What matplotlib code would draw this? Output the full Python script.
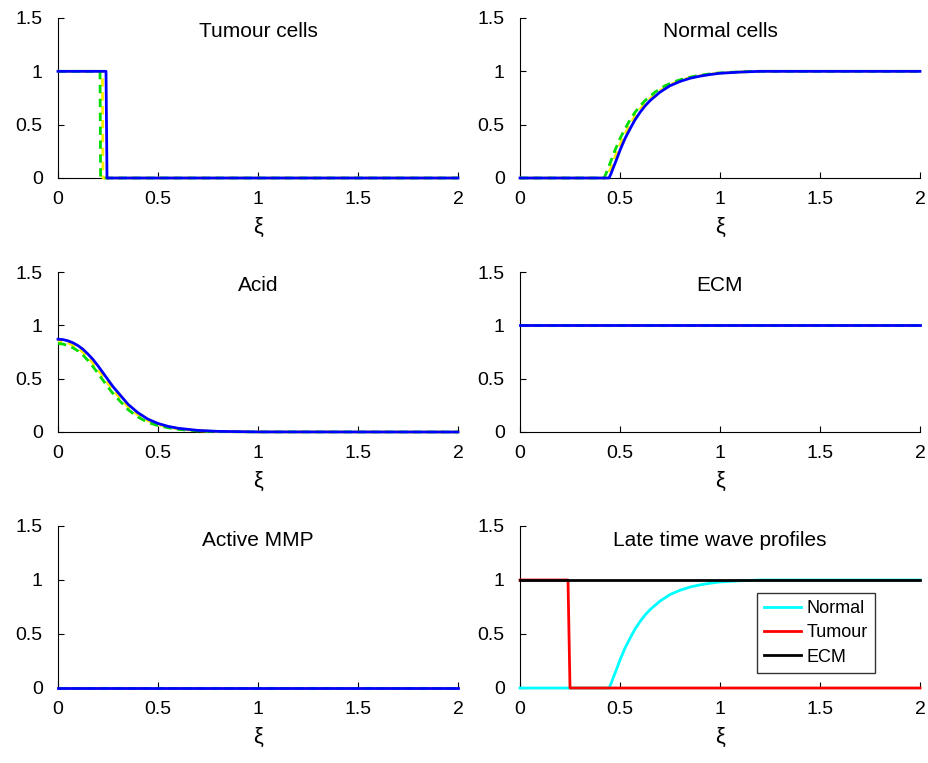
import matplotlib
matplotlib.use("Agg")
import matplotlib.pyplot as plt

plt.rcParams['font.family'] = ['Liberation Sans', 'DejaVu Sans']

# ---------------- data ----------------
titles = ["Tumour cells", "Normal cells", "Acid", "ECM", "Active MMP", "Late time wave profiles"]
xticks = [0, 0.5, 1, 1.5, 2]
xticklabels = ["0", "0.5", "1", "1.5", "2"]
yticks = [0, 0.5, 1, 1.5]
yticklabels = ["0", "0.5", "1", "1.5"]

# Tumour cells
tum_x_blue = [0, 0.24, 0.245, 2]
tum_y_blue = [1, 1, 0, 0]
tum_x_yel = [0, 0.222, 0.225, 2]
tum_y_yel = [1, 1, 0, 0]
tum_x_grn = [0, 0.21, 0.213, 2]
tum_y_grn = [1, 1, 0, 0]

# Normal cells
nor_x_blue = [0, 0.445, 0.455, 0.465, 0.48, 0.5, 0.525, 0.55, 0.575, 0.6, 0.625, 0.65, 0.7, 0.75,
              0.8, 0.85, 0.9, 0.95, 1.0, 1.1, 1.2, 2.0]
nor_y_blue = [0, 0, 0.04, 0.09, 0.16, 0.26, 0.37, 0.46, 0.545, 0.615, 0.675, 0.725, 0.805, 0.865,
              0.905, 0.935, 0.955, 0.97, 0.982, 0.993, 1.0, 1.0]
nor_x_yel = [0, 0.433, 0.443, 0.453, 0.468, 0.488, 0.513, 0.538, 0.563, 0.588, 0.613, 0.638, 0.688, 0.738,
             0.788, 0.838, 0.888, 0.938, 0.988, 1.088, 1.188, 2.0]
nor_y_yel = nor_y_blue
nor_x_grn = [0, 0.42, 0.43, 0.44, 0.455, 0.475, 0.5, 0.525, 0.55, 0.575, 0.6, 0.625, 0.675, 0.725,
             0.775, 0.825, 0.875, 0.925, 0.975, 1.075, 1.175, 2.0]
nor_y_grn = nor_y_blue

# Acid
acid_x = [0, 0.025, 0.05, 0.075, 0.1, 0.125, 0.15, 0.175, 0.2, 0.225, 0.25, 0.275, 0.3, 0.35, 0.4,
          0.45, 0.5, 0.55, 0.6, 0.7, 0.8, 1.0, 2.0]
acid_blue = [0.87, 0.866, 0.855, 0.836, 0.81, 0.775, 0.73, 0.68, 0.62, 0.555, 0.49, 0.425, 0.37, 0.26,
             0.18, 0.12, 0.08, 0.053, 0.035, 0.015, 0.006, 0.001, 0]
acid_yel = [0.85, 0.846, 0.835, 0.814, 0.785, 0.747, 0.70, 0.645, 0.585, 0.52, 0.455, 0.395, 0.34, 0.235,
            0.16, 0.105, 0.07, 0.046, 0.03, 0.012, 0.005, 0.001, 0]
acid_grn = [0.83, 0.824, 0.81, 0.789, 0.76, 0.72, 0.67, 0.613, 0.55, 0.485, 0.42, 0.36, 0.31, 0.21,
            0.14, 0.09, 0.06, 0.04, 0.025, 0.01, 0.004, 0.001, 0]

# ECM
ecm_x = [0, 2]
ecm_y = [1, 1]

# Active MMP
mmp_x = [0, 2]
mmp_y = [0, 0]

# Late time profiles
late_nor_x = nor_x_blue
late_nor_y = nor_y_blue
late_tum_x = [0, 0.24, 0.25, 2]
late_tum_y = [1, 1, 0, 0]
late_ecm_x = [0, 2]
late_ecm_y = [1, 1]
legend_labels = ["Normal", "Tumour", "ECM"]

# ---------------- figure ----------------
fig = plt.figure(figsize=(9.29, 7.63), dpi=100)
lefts = [58 / 929, 520 / 929]
W = 400 / 929
rows = [(18, 178), (272, 432), (526, 688)]
axes = []
for r, (top, bot) in enumerate(rows):
    for c in range(2):
        ax = fig.add_axes([lefts[c], 1 - bot / 763, W, (bot - top) / 763])
        axes.append(ax)

BLUE = "#0000ff"
GREEN = "#00dd00"
YELLOW = "#ffee00"
DASH = (0, (3, 2))


def triple(ax, xb, yb, xy, yy, xg, yg):
    ax.plot(xy, yy, color=YELLOW, lw=2, ls=(1.5, (3, 2)), clip_on=False, zorder=3)
    ax.plot(xg, yg, color=GREEN, lw=2, ls=DASH, clip_on=False, zorder=3)
    ax.plot(xb, yb, color=BLUE, lw=2, clip_on=False, zorder=3)


triple(axes[0], tum_x_blue, tum_y_blue, tum_x_yel, tum_y_yel, tum_x_grn, tum_y_grn)
triple(axes[1], nor_x_blue, nor_y_blue, nor_x_yel, nor_y_yel, nor_x_grn, nor_y_grn)
triple(axes[2], acid_x, acid_blue, acid_x, acid_yel, acid_x, acid_grn)
triple(axes[3], ecm_x, ecm_y, ecm_x, ecm_y, ecm_x, ecm_y)
triple(axes[4], mmp_x, mmp_y, mmp_x, mmp_y, mmp_x, mmp_y)

ax = axes[5]
ax.plot(late_nor_x, late_nor_y, color="#00ffff", lw=2, label=legend_labels[0], clip_on=False, zorder=3)
ax.plot(late_tum_x, late_tum_y, color="#ff0000", lw=2, label=legend_labels[1], clip_on=False, zorder=3)
ax.plot(late_ecm_x, late_ecm_y, color="#000000", lw=2, label=legend_labels[2], clip_on=False, zorder=3)
leg = ax.legend(loc="lower left", bbox_to_anchor=(0.593, 0.093), fontsize=13,
                frameon=True, fancybox=False, handlelength=2.0, handletextpad=0.35,
                borderpad=0.4, labelspacing=0.4, borderaxespad=0)
leg.get_frame().set_edgecolor("black")
leg.get_frame().set_linewidth(1.0)
leg.set_zorder(5)

for ax, t in zip(axes, titles):
    ax.set_xlim(0, 2)
    ax.set_ylim(0, 1.5)
    ax.set_xticks(xticks)
    ax.set_xticklabels(xticklabels)
    ax.set_yticks(yticks)
    ax.set_yticklabels(yticklabels)
    ax.tick_params(direction="in", length=4, labelsize=14)
    ax.tick_params(axis="y", pad=11)
    ax.tick_params(axis="x", pad=9)
    for s in ["top", "right"]:
        ax.spines[s].set_visible(False)
    ax.set_xlabel("ξ", fontsize=16, labelpad=7)
    ax.text(1, 1.37, t, ha="center", va="center", fontsize=15)

fig.savefig("out.png", dpi=100)
